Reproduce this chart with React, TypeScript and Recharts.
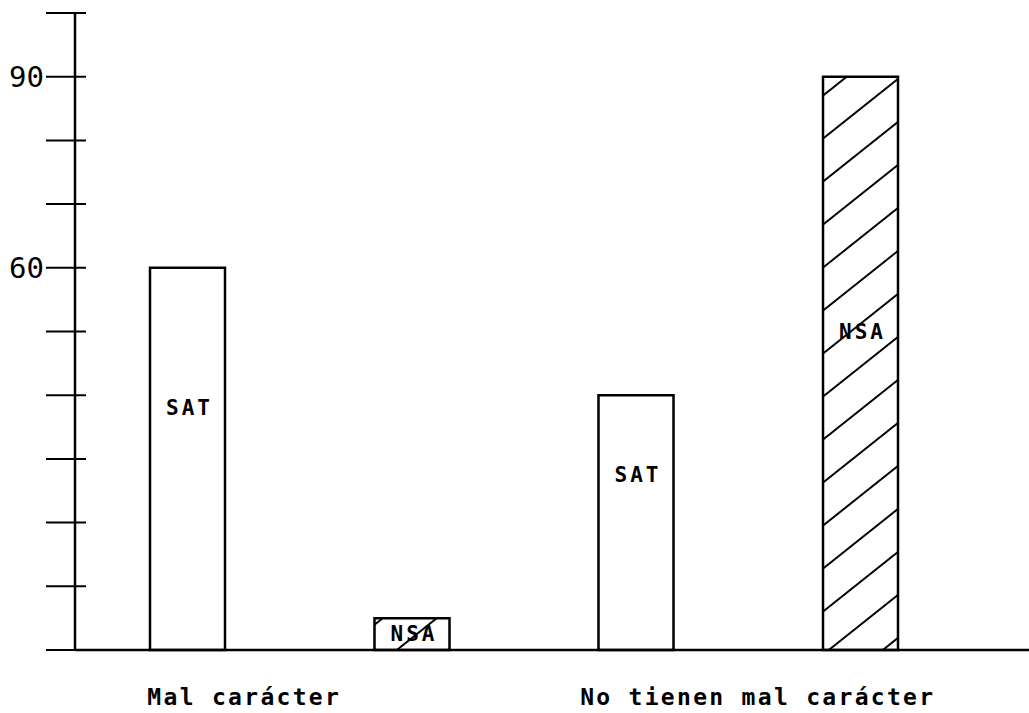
import React from 'react';
import { BarChart, Bar, XAxis, YAxis, LabelList } from 'recharts';

const categories = ['Mal carácter', 'No tienen mal carácter'];
const satValues = [60, 40];
const nsaValues = [5, 90];
// where the text label sits inside each bar, in value units
const satLabelAt = [38, 27.5];
const nsaLabelAt = [2.5, 50];
const yTicks = [0, 10, 20, 30, 40, 50, 60, 70, 80, 90, 100];
const yLabelled = [60, 90];

const data = categories.map((name, i) => ({
  name,
  sat: satValues[i],
  nsa: nsaValues[i],
}));

const FONT = '"DejaVu Sans Mono", "Liberation Mono", monospace';
const INK = '#000';
// nudges for the hand-placed category captions
const captionShift = [-55, 10];
// hatch: line spacing 43px, slope 43/54; one big tile so no seams show inside a bar
const HW = 108;
const HSTEP = 43;
const HH = HSTEP * 14;
const hatchRows = Array.from({ length: 18 }, (_, k) => k * HSTEP);

const YTick = (props: any) => {
  const { x, y, payload } = props;
  const v = payload.value;
  return (
    <g>
      <line x1={x - 29} x2={x + 11} y1={y} y2={y} stroke={INK} strokeWidth={2} />
      {yLabelled.includes(v) && (
        <text x={x - 31} y={y} textAnchor="end" dominantBaseline="central"
          fontFamily={FONT} fontSize={29} fill={INK}>
          {v}
        </text>
      )}
    </g>
  );
};

const XTick = (props: any) => {
  const { x, y, payload, index } = props;
  return (
    <text x={x + (captionShift[index] || 0)} y={y + 55} textAnchor="middle"
      fontFamily={FONT} fontSize={23} fontWeight="bold" letterSpacing={2.3} fill={INK}>
      {payload.value}
    </text>
  );
};

const barLabel = (text: string, values: number[], at: number[]) => (props: any) => {
  const { x, y, width, height, index } = props;
  const ly = y + height * (1 - at[index] / values[index]);
  return (
    <text x={x + width / 2 + 2} y={ly} textAnchor="middle" dominantBaseline="central"
      fontFamily={FONT} fontSize={21} fontWeight="bold" letterSpacing={3} fill={INK}>
      {text}
    </text>
  );
};

export default function App() {
  return (
    <div style={{ position: 'fixed', left: 0, top: 0, background: '#fff' }}>
      <BarChart width={1029} height={713} data={data}
        margin={{ top: 13, right: 0, bottom: 0, left: 0 }}
        barSize={75} barGap={149.5}>
        <defs>
          <pattern id="hatch" patternUnits="userSpaceOnUse" width={HW} height={HH} x={820} y={55}>
            {hatchRows.map((c) => (
              <line key={c} x1={0} y1={c} x2={HW} y2={c - 2 * HSTEP}
                stroke={INK} strokeWidth={2} />
            ))}
          </pattern>
        </defs>
        <XAxis dataKey="name" height={63} tickLine={false} tickSize={0} tickMargin={0}
          padding={{ left: 0, right: 57 }} interval={0}
          axisLine={{ stroke: INK, strokeWidth: 2.5 }} tick={<XTick />} />
        <YAxis width={75} domain={[0, 100]} ticks={yTicks} interval={0}
          tickLine={false} tickSize={0} tickMargin={0}
          axisLine={{ stroke: INK, strokeWidth: 2.5 }} tick={<YTick />} />
        <Bar dataKey="sat" fill="#fff" stroke={INK} strokeWidth={2.5} isAnimationActive={false}>
          <LabelList dataKey="sat" content={barLabel('SAT', satValues, satLabelAt)} />
        </Bar>
        <Bar dataKey="nsa" fill="url(#hatch)" stroke={INK} strokeWidth={2.5} isAnimationActive={false}>
          <LabelList dataKey="nsa" content={barLabel('NSA', nsaValues, nsaLabelAt)} />
        </Bar>
      </BarChart>
    </div>
  );
}
